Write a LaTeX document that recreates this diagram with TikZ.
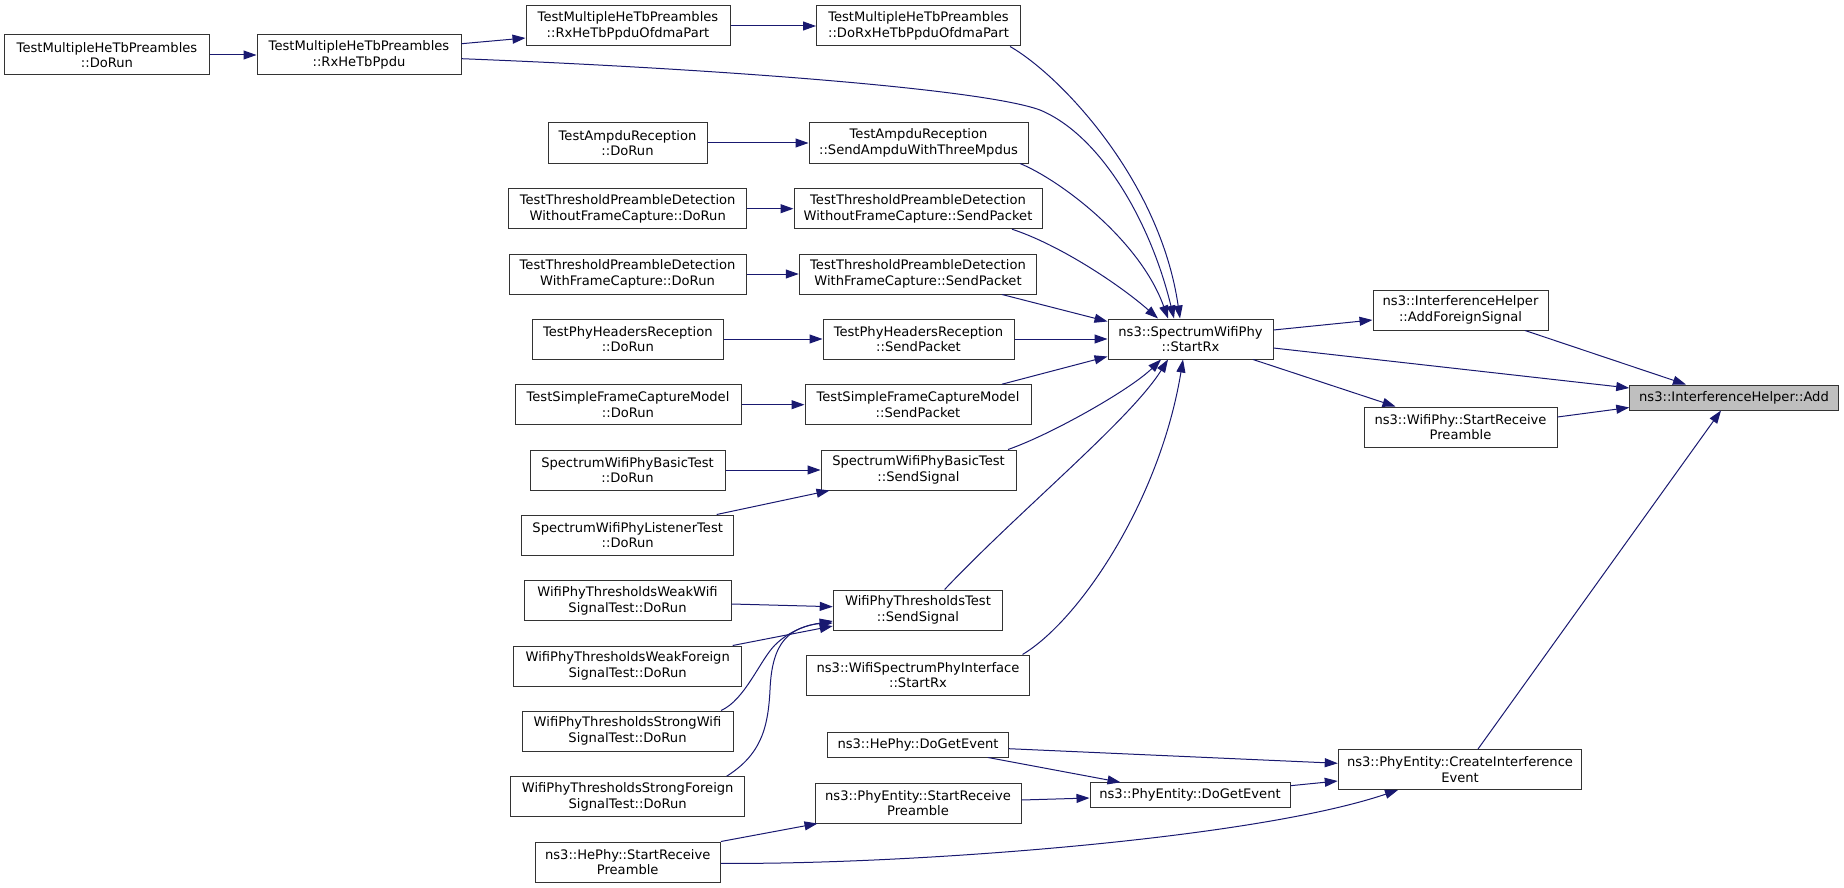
\documentclass[tikz,border=0pt]{standalone}
\usepackage{fontspec}
\setmainfont{DejaVu Sans}
\usetikzlibrary{arrows.meta}
\definecolor{edgecol}{HTML}{191970}
\definecolor{nodeline}{HTML}{333333}
\definecolor{hilite}{HTML}{BFBFBF}
\tikzset{
  box/.style={draw=nodeline, fill=white, line width=1pt, inner sep=0pt, align=center,
    minimum height=40pt, font=\fontsize{13.1}{15.5}\selectfont},
  onebox/.style={box, minimum height=25pt},
  edge/.style={draw=edgecol, line width=1pt, -{Triangle[length=13pt,width=9pt]}}
}
\begin{document}
\begin{tikzpicture}[x=1pt,y=-1pt]
\useasboundingbox (0,0) rectangle (1844,888);
% column 1
\node[box, minimum width=204.5pt] (A1) at (107,55) {TestMultipleHeTbPreambles\\::DoRun};
% column 2
\node[box, minimum width=204pt] (A2) at (359,55) {TestMultipleHeTbPreambles\\::RxHeTbPpdu};
% column 3
\node[box, minimum width=204pt] (B1) at (628,26) {TestMultipleHeTbPreambles\\::RxHeTbPpduOfdmaPart};
\node[box, minimum width=159pt] (C1) at (627.5,143) {TestAmpduReception\\::DoRun};
\node[box, minimum width=237.5pt] (D1) at (627.7,208.7) {TestThresholdPreambleDetection\\WithoutFrameCapture::DoRun};
\node[box, minimum width=237pt] (E1) at (627.5,274) {TestThresholdPreambleDetection\\WithFrameCapture::DoRun};
\node[box, minimum width=190.4pt] (F1) at (627.8,339) {TestPhyHeadersReception\\::DoRun};
\node[box, minimum width=226pt] (G1) at (628,404.7) {TestSimpleFrameCaptureModel\\::DoRun};
\node[box, minimum width=195pt] (H1) at (627.5,470) {SpectrumWifiPhyBasicTest\\::DoRun};
\node[box, minimum width=212.5pt] (I1) at (627.7,535) {SpectrumWifiPhyListenerTest\\::DoRun};
\node[box, minimum width=207pt] (J1) at (627.5,600.7) {WifiPhyThresholdsWeakWifi\\SignalTest::DoRun};
\node[box, minimum width=228pt] (K1) at (627.7,666) {WifiPhyThresholdsWeakForeign\\SignalTest::DoRun};
\node[box, minimum width=211pt] (L1) at (627.5,731) {WifiPhyThresholdsStrongWifi\\SignalTest::DoRun};
\node[box, minimum width=233.5pt] (M1) at (627.7,796.7) {WifiPhyThresholdsStrongForeign\\SignalTest::DoRun};
\node[box, minimum width=185.4pt] (Q1) at (627.7,862) {ns3::HePhy::StartReceive\\Preamble};
% column 4
\node[box, minimum width=204pt] (B2) at (918.5,26) {TestMultipleHeTbPreambles\\::DoRxHeTbPpduOfdmaPart};
\node[box, minimum width=219pt] (C2) at (918.5,143) {TestAmpduReception\\::SendAmpduWithThreeMpdus};
\node[box, minimum width=248pt] (D2) at (918,208.7) {TestThresholdPreambleDetection\\WithoutFrameCapture::SendPacket};
\node[box, minimum width=237.5pt] (E2) at (918,274) {TestThresholdPreambleDetection\\WithFrameCapture::SendPacket};
\node[box, minimum width=191pt] (F2) at (918.5,339) {TestPhyHeadersReception\\::SendPacket};
\node[box, minimum width=226pt] (G2) at (918,404.7) {TestSimpleFrameCaptureModel\\::SendPacket};
\node[box, minimum width=195pt] (H2) at (918.5,470) {SpectrumWifiPhyBasicTest\\::SendSignal};
\node[box, minimum width=169.5pt] (J2) at (918,610) {WifiPhyThresholdsTest\\::SendSignal};
\node[box, minimum width=222.6pt] (N2) at (918,675) {ns3::WifiSpectrumPhyInterface\\::StartRx};
\node[onebox, minimum width=180.7pt] (O2) at (918,744.5) {ns3::HePhy::DoGetEvent};
\node[box, minimum width=206pt] (P2) at (918,803) {ns3::PhyEntity::StartReceive\\Preamble};
% column 5
\node[box, minimum width=165pt] (T) at (1190.5,339) {ns3::SpectrumWifiPhy\\::StartRx};
\node[onebox, minimum width=200pt] (R) at (1190,795.3) {ns3::PhyEntity::DoGetEvent};
% column 6
\node[box, minimum width=175pt] (U) at (1460.5,310) {ns3::InterferenceHelper\\::AddForeignSignal};
\node[box, minimum width=193pt] (V) at (1460.5,427) {ns3::WifiPhy::StartReceive\\Preamble};
\node[box, minimum width=243.5pt] (S) at (1460,769.5) {ns3::PhyEntity::CreateInterference\\Event};
% column 7
\node[onebox, fill=hilite, minimum width=208.5pt] (W) at (1734,397.5) {ns3::InterferenceHelper::Add};

% edges
\draw[edge] (A1.east) -- (A2.west);
\draw[edge] ([yshift=11.3pt]A2.east) -- ([yshift=-12pt]B1.west);
\draw[edge] (B1.east) -- (B2.west);
\draw[edge] ([yshift=-3.7pt]A2.east) .. controls (700,68) and (980,88) .. (1040,110)
   .. controls (1100,135) and (1150,220) .. ([xshift=-16.5pt]T.north);
\draw[edge] ([xshift=91.5pt]B2.south) .. controls (1060,75) and (1160,180) .. ([xshift=-10.5pt]T.north);
\draw[edge] (C1.east) -- (C2.west);
\draw[edge] ([xshift=101.5pt]C2.south) .. controls (1060,180) and (1140,240) .. ([xshift=-22.5pt]T.north);
\draw[edge] (D1.east) -- (D2.west);
\draw[edge] ([xshift=94pt]D2.south) .. controls (1060,245) and (1120,285) .. ([xshift=-32.5pt]T.north);
\draw[edge] (E1.east) -- (E2.west);
\draw[edge] ([xshift=84pt]E2.south) -- ([yshift=-3pt]T.north west);
\draw[edge] (F1.east) -- (F2.west);
\draw[edge] (F2.east) -- (T.west);
\draw[edge] (G1.east) -- (G2.west);
\draw[edge] ([xshift=84pt]G2.north) -- ([yshift=3pt]T.south west);
\draw[edge] (H1.east) -- (H2.west);
\draw[edge] ([xshift=89.5pt]H2.north) .. controls (1050,435) and (1130,390) .. ([xshift=-29.5pt]T.south);
\draw[edge] ([xshift=89pt]I1.north) -- ([xshift=9pt]H2.south west);
\draw[edge] ([yshift=-3.3pt]J1.east) -- ([yshift=3.3pt]J2.west);
\draw[edge] ([xshift=105pt]K1.north) -- ([yshift=-16pt]J2.west);
\draw[edge] ([xshift=93.5pt]L1.north) .. controls (745,700) and (760,660) .. (775,645)
   .. controls (790,630) and (810,624) .. ([yshift=-13pt]J2.west);
\draw[edge] ([xshift=99pt]M1.north) .. controls (760,755) and (768,730) .. (770,690)
   .. controls (772,640) and (790,628) .. ([yshift=-11pt]J2.west);
\draw[edge] ([xshift=26.6pt]J2.north) .. controls (1020,510) and (1130,420) .. ([xshift=-22.5pt]T.south);
\draw[edge] ([xshift=104.5pt]N2.north) .. controls (1080,620) and (1160,500) .. ([xshift=-7.5pt]T.south);
\draw[edge] ([yshift=-4.2pt]O2.east) -- ([yshift=6.2pt]S.west);
\draw[edge] ([xshift=70pt]O2.south) -- ([xshift=31pt]R.north west);
\draw[edge] ([yshift=3pt]P2.east) -- ([yshift=-2.7pt]R.west);
\draw[edge] (Q1.north east) -- ([xshift=3pt]P2.south west);
\draw[edge] ([yshift=-1.3pt]Q1.east) .. controls (900,865) and (1250,840) .. ([xshift=-62pt]S.south);
\draw[edge] ([yshift=9.6pt]R.east) -- ([yshift=-11.5pt]S.west);
\draw[edge] ([xshift=18pt]S.north) -- ([xshift=-13pt]W.south);
\draw[edge] ([yshift=9pt]T.east) -- ([yshift=-10pt]U.west);
\draw[edge] ([yshift=-9pt]T.east) -- ([yshift=9.5pt]W.west);
\draw[edge] ([xshift=62.5pt]T.south) -- ([xshift=-65pt]V.north);
\draw[edge] ([xshift=64.5pt]U.south) -- ([xshift=-48pt]W.north);
\draw[edge] ([yshift=10pt]V.east) -- ([yshift=-10pt]W.west);
\end{tikzpicture}
\end{document}
